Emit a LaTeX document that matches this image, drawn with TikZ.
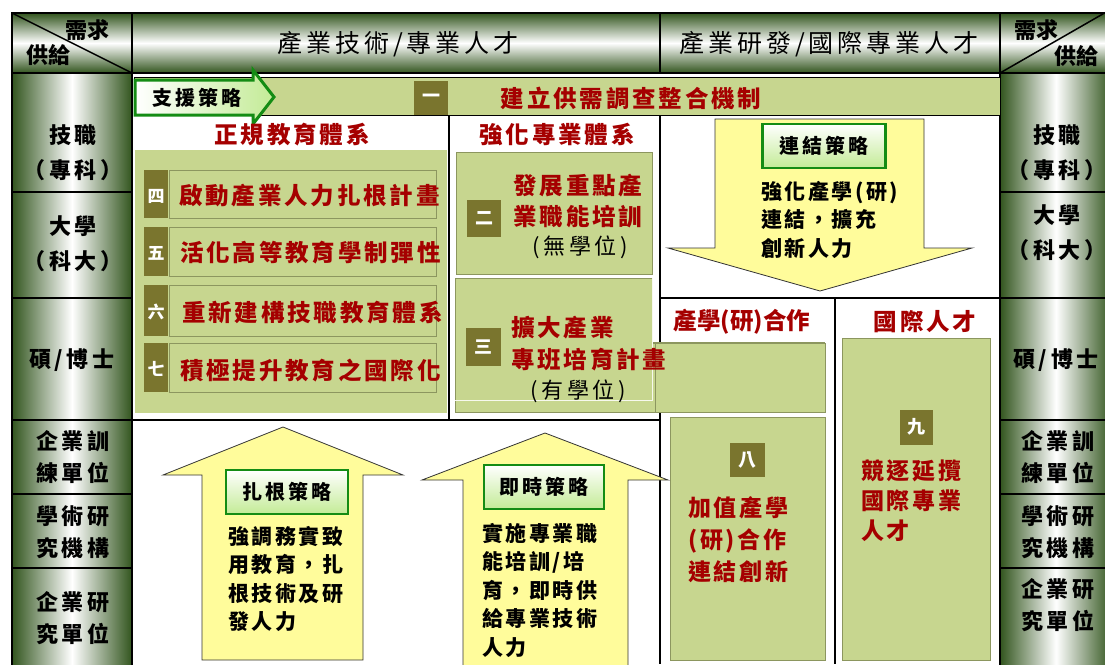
\documentclass[tikz,border=0pt]{standalone}
\usepackage{fontspec}
\newfontfamily\cjk{Noto Sans CJK TC}
\newfontfamily\cjkls{Noto Sans CJK TC}[LetterSpace=12]
\newfontfamily\cjkwide{Noto Sans CJK TC}[LetterSpace=16]
\definecolor{dg}{RGB}{50,85,30}
\definecolor{lg}{RGB}{199,214,143}
\definecolor{olivebox}{RGB}{122,117,46}
\definecolor{dred}{RGB}{165,0,0}
\definecolor{yel}{RGB}{255,252,155}
\definecolor{sgreen}{RGB}{20,140,20}
\definecolor{pgreen}{RGB}{195,235,150}
\definecolor{boxedge}{RGB}{140,150,95}
\begin{document}
\begin{tikzpicture}[x=1pt,y=-1pt,
  hdr/.style={draw=black,line width=2.5pt,top color=dg,bottom color=dg,middle color=white},
  side/.style={draw=black,line width=2.5pt,left color=dg,right color=dg,middle color=white},
  blk/.style={draw=black,line width=2.5pt},
  panel/.style={fill=lg,draw=boxedge,line width=0.8pt},
  numbox/.style={fill=olivebox,minimum width=#1,minimum height=#1,inner sep=0pt,text=white,font=\cjk\bfseries\fontsize{18}{20}\selectfont},
  numbox/.default=34pt,
  redt/.style={text=dred,font=\cjkls\bfseries\fontsize{23.5}{26}\selectfont,inner sep=0pt},
  sidet/.style={align=center,font=\cjkwide\bfseries\fontsize{22}{35}\selectfont,inner sep=0pt},
  sidet2/.style={align=center,font=\cjkwide\bfseries\fontsize{22}{32}\selectfont,inner sep=0pt},
  hdrt/.style={font=\cjkwide\fontsize{25}{28}\selectfont,inner sep=0pt},
  cornert/.style={font=\cjk\bfseries\fontsize{22}{24}\selectfont,inner sep=0pt},
  stratbox/.style={draw=sgreen,line width=2.5pt,top color=white,bottom color=pgreen,minimum width=#1,minimum height=44pt,inner sep=0pt,font=\cjkwide\bfseries\fontsize{20}{22}\selectfont},
  arrowfill/.style={fill=yel,draw=black!80,line width=0.8pt},
  blackt/.style={align=left,font=\cjkls\bfseries\fontsize{21}{28.5}\selectfont,inner sep=0pt},
  nrm/.style={font=\cjkwide\fontsize{22}{24}\selectfont,inner sep=0pt}
]
\fill[white] (0,0) rectangle (1105,664);
\useasboundingbox (0,0) rectangle (1105,664);

% ---------- header row ----------
\path[hdr] (12,13) rectangle (132,73);
\draw[line width=1.5pt] (12,13) -- (132,73);
\node[cornert] (c0a) at (87,30) {需求};
\node[cornert] (c0b) at (48,55) {供給};
\path[hdr] (132,13) rectangle (660,73);
\node[hdrt] (h1) at (398,44) {產業技術/專業人才};
\path[hdr] (660,13) rectangle (1000,73);
\node[hdrt] (h2) at (829,44) {產業研發/國際專業人才};
\path[hdr] (1000,13) rectangle (1112,73);
\draw[line width=1.5pt] (1000,73) -- (1108,11);
\node[cornert] (c3a) at (1036,30) {需求};
\node[cornert] (c3b) at (1076,56) {供給};

% ---------- side columns ----------
\foreach \ya/\yb in {73/192,192/298,298/420,420/494,494/568,568/670}{
  \path[side] (12,\ya) rectangle (132,\yb);
  \path[side] (1000,\ya) rectangle (1112,\yb);
}
\node[sidet] (l1) at (73,153) {技職\\（專科）};
\node[sidet] (l2) at (73,244) {大學\\（科大）};
\node[sidet] (l3) at (72,360) {碩/博士};
\node[sidet2] (l4) at (73,457) {企業訓\\練單位};
\node[sidet2] (l5) at (73,532) {學術研\\究機構};
\node[sidet2] (l6) at (73,618) {企業研\\究單位};
\node[sidet] (r1) at (1057,153) {技職\\（專科）};
\node[sidet] (r2) at (1057,233) {大學\\（科大）};
\node[sidet] (r3) at (1056,360) {碩/博士};
\node[sidet2] (r4) at (1058,457) {企業訓\\練單位};
\node[sidet2] (r5) at (1058,532) {學術研\\究機構};
\node[sidet2] (r6) at (1058,605) {企業研\\究單位};

% ---------- top bar ----------
\path[fill=lg,draw=black,line width=0.8pt] (134,77) rectangle (1000,115);
\node[numbox,minimum height=34pt] (n1) at (431,98) {一};
\node[redt] (t1) at (631,98) {建立供需調查整合機制};
\path[draw=sgreen,line width=3pt,left color=white,right color=pgreen,line join=miter]
  (135,80) -- (253,80) -- (253,70) -- (274,97) -- (253,124) -- (253,115) -- (135,115) -- cycle;
\node[font=\cjkwide\bfseries\fontsize{20}{22}\selectfont,inner sep=0pt] (s0) at (197,98) {支援策略};

% ---------- 正規教育體系 ----------
\node[redt] (g1) at (292,135) {正規教育體系};
\path[fill=lg] (135,150) rectangle (447,413);
\foreach \ya/\yb in {170/218,227/276,285/336,343/392}{
  \path[panel] (169,\ya) rectangle (436,\yb);
  \path[fill=olivebox] (144,\ya) rectangle (168,\yb);
}
\node[text=white,font=\cjk\bfseries\fontsize{17}{20}\selectfont,inner sep=0pt] (n4) at (156,196) {四};
\node[text=white,font=\cjk\bfseries\fontsize{17}{20}\selectfont,inner sep=0pt] (n5) at (156,253) {五};
\node[text=white,font=\cjk\bfseries\fontsize{17}{20}\selectfont,inner sep=0pt] (n6) at (156,312) {六};
\node[text=white,font=\cjk\bfseries\fontsize{17}{20}\selectfont,inner sep=0pt] (n7) at (156,369) {七};
\node[redt,anchor=west] (t4) at (179,196) {啟動產業人力扎根計畫};
\node[redt,anchor=west] (t5) at (180,253) {活化高等教育學制彈性};
\node[redt,anchor=west] (t6) at (182,313) {重新建構技職教育體系};
\node[redt,anchor=west] (t7) at (180,371) {積極提升教育之國際化};

% ---------- 強化專業體系 ----------
\node[redt] (g2) at (557,135) {強化專業體系};
\path[panel] (456,152) rectangle (652,274);
\path[panel] (455,343) rectangle (825,412);
\path[fill=lg,draw=white!85!lg,line width=0.8pt] (455,278) rectangle (652,400);
\draw[boxedge,line width=0.8pt] (455,400) -- (455,278) -- (652,278);
\node[numbox,minimum width=34pt,minimum height=37pt] (n2) at (484,218) {二};
\node[numbox,minimum width=35pt,minimum height=38pt] (n3) at (483,347) {三};
\node[redt,align=center,font=\cjkls\bfseries\fontsize{23.5}{31}\selectfont] (t2) at (578,201) {發展重點產\\業職能培訓};
\node[nrm] (t2b) at (580,247) {(無學位)};
\node[redt,anchor=west] (t3a) at (511,328) {擴大產業};
\node[nrm] (t3c) at (578,391) {(有學位)};

% ---------- structure lines ----------
\draw[blk] (449,115) -- (449,420);
\draw[blk] (132,420) -- (660,420);
\draw[blk] (660,115) -- (660,343);
\draw[blk] (660,412) -- (660,664);
\draw[blk] (660,298) -- (1000,298);
\draw[blk] (835,298) -- (835,664);
\path[panel] (655,343) rectangle (825,412);
\draw[boxedge,line width=1.2pt] (653,343) -- (825,343);
\node[redt,anchor=west] (t3b) at (511,360) {專班培育計畫};

% ---------- 連結策略 arrow ----------
\path[arrowfill] (715,119) -- (924,119) -- (924,248) -- (972,248) -- (820,291) -- (668,248) -- (715,248) -- cycle;
\node[stratbox=123pt] (s3) at (824,146) {連結策略};
\node[blackt,anchor=north west] (b3) at (761,181) {強化產學(研)\\連結，擴充\\創新人力};

% ---------- 產學(研)合作 / 國際人才 ----------
\node[redt,font=\cjk\bfseries\fontsize{23.5}{26}\selectfont] (g3) at (742,322) {產學(研)合作};
\node[redt] (g4) at (925,322) {國際人才};
\path[panel] (670,417) rectangle (825,660);
\node[numbox,minimum width=35pt,minimum height=34pt] (n8) at (747,460) {八};
\node[redt,align=left,anchor=north west,font=\cjkls\bfseries\fontsize{23}{32}\selectfont] (t8) at (688,496) {加值產學\\(研)合作\\連結創新};
\path[panel] (842,338) rectangle (990,660);
\node[numbox,minimum width=33pt,minimum height=35pt] (n9) at (916,427) {九};
\node[redt,align=left,anchor=north west,font=\cjkls\bfseries\fontsize{23}{30}\selectfont] (t9) at (861,459) {競逐延攬\\國際專業\\人才};

% ---------- up arrows ----------
\path[arrowfill] (202,660) -- (202,475) -- (163,475) -- (283,427) -- (403,475) -- (363,475) -- (363,660) -- cycle;
\node[stratbox=122pt] (s1) at (287,492) {扎根策略};
\node[blackt,anchor=north west] (b1) at (228,526) {強調務實致\\用教育，扎\\根技術及研\\發人力};
\path[arrowfill] (463,666) -- (463,480) -- (422,480) -- (545,433) -- (668,480) -- (628,480) -- (628,666) -- cycle;
\node[stratbox=120pt] (s2) at (544,487) {即時策略};
\node[blackt,anchor=north west] (b2) at (482,523) {實施專業職\\能培訓/培\\育，即時供\\給專業技術\\人力};
\end{tikzpicture}
\end{document}
